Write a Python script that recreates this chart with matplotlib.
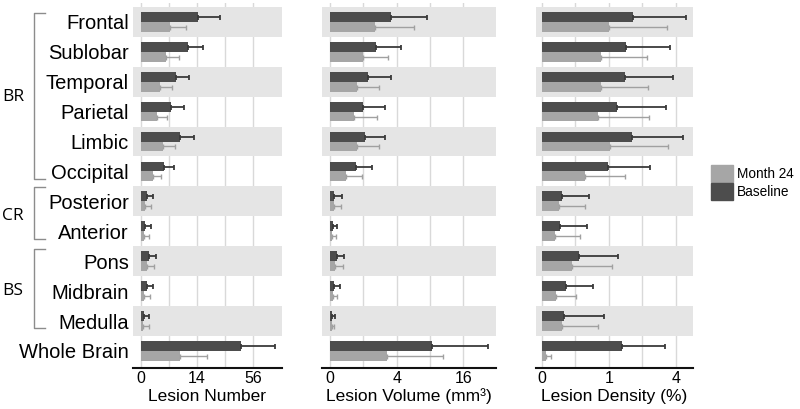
import numpy as np
import matplotlib
matplotlib.use("Agg")
from matplotlib import pyplot as plt
from matplotlib.patches import Patch
from matplotlib.lines import Line2D
from matplotlib.transforms import blended_transform_factory

plt.rcParams['font.family'] = ['Liberation Sans', 'DejaVu Sans']

regions = ["Frontal", "Sublobar", "Temporal", "Parietal", "Limbic", "Occipital",
           "Posterior", "Anterior", "Pons", "Midbrain", "Medulla", "Whole Brain"]

# lesion number (mean, sd)
num_base = [14.7, 10.0, 5.4, 4.1, 6.8, 2.4, 0.15, 0.08, 0.26, 0.16, 0.03, 44.6]
num_base_sd = [13.2, 7.3, 4.9, 4.3, 5.9, 2.5, 0.53, 0.34, 0.74, 0.52, 0.23, 35.9]
num_m24 = [3.75, 2.8, 1.66, 1.14, 2.16, 0.61, 0.07, 0.03, 0.16, 0.05, 0.02, 6.8]
num_m24_sd = [5.25, 3.75, 2.54, 1.95, 3.0, 1.17, 0.35, 0.26, 0.59, 0.29, 0.24, 12.6]

# lesion volume (mm3)
vol_base = [3.35, 1.93, 1.32, 0.98, 1.1, 0.6, 0.017, 0.007, 0.04, 0.017, 0.004, 9.38]
vol_base_sd = [5.07, 2.62, 2.0, 1.72, 1.66, 1.01, 0.113, 0.037, 0.14, 0.079, 0.016, 13.2]
vol_m24 = [1.83, 0.96, 0.67, 0.53, 0.64, 0.23, 0.012, 0.0025, 0.025, 0.007, 0.0025, 2.9]
vol_m24_sd = [4.58, 2.11, 1.5, 1.49, 1.53, 0.71, 0.098, 0.0275, 0.135, 0.033, 0.0145, 8.55]

# lesion density (%)
den_base = [1.83, 1.57, 1.55, 1.26, 1.79, 0.98, 0.089, 0.07, 0.3, 0.13, 0.11, 1.43]
den_base_sd = [2.77, 2.08, 2.29, 2.15, 2.62, 1.63, 0.40, 0.39, 1.0, 0.44, 0.75, 1.92]
den_m24 = [0.99, 0.78, 0.78, 0.71, 1.03, 0.41, 0.062, 0.039, 0.2, 0.042, 0.089, 0.0036]
den_m24_sd = [2.51, 1.69, 1.71, 1.85, 2.51, 1.14, 0.35, 0.29, 0.89, 0.22, 0.60, 0.013]

num_ticks = [0, 14, 56]
vol_ticks = [0, 4, 16]
den_ticks = [0, 1, 4]

DARK = '#4d4d4d'
LIGHT = '#a6a6a6'
BAND = '#e5e5e5'


def fwd(x):
    x = np.asarray(x, dtype=float)
    return np.sign(x) * np.sqrt(np.abs(x))


def inv(x):
    x = np.asarray(x, dtype=float)
    return np.sign(x) * x ** 2


fig = plt.figure(figsize=(8, 4.09), dpi=100)
bot = 41 / 409
h = 365 / 409
ax1 = fig.add_axes([133 / 800, bot, 149 / 800, h])
ax2 = fig.add_axes([322 / 800, bot, 174 / 800, h])
ax3 = fig.add_axes([536 / 800, bot, 157 / 800, h])

panels = [
    (ax1, num_base, num_base_sd, num_m24, num_m24_sd, num_ticks, [3.5, 31.5], (-0.285, 88.7), "Lesion Number"),
    (ax2, vol_base, vol_base_sd, vol_m24, vol_m24_sd, vol_ticks, [1, 9], (-0.058, 24.8), "Lesion Volume (mm³)"),
    (ax3, den_base, den_base_sd, den_m24, den_m24_sd, den_ticks, [0.25, 2.25], (-0.008, 5.08), "Lesion Density (%)"),
]

y = np.arange(len(regions))
bh = 0.33
for ax, base, base_sd, m24, m24_sd, ticks, minor, xlim, label in panels:
    ax.set_xscale('function', functions=(fwd, inv))
    for i in range(0, len(regions) - 1, 2):
        ax.axhspan(i - 0.5, i + 0.5, color=BAND, lw=0, zorder=0.9)
    ax.barh(y - bh / 2, base, height=bh, color=DARK, zorder=2)
    ax.barh(y + bh / 2, m24, height=bh, color=LIGHT, zorder=2)
    ax.errorbar(base, y - bh / 2, xerr=[np.zeros(len(base)), base_sd], fmt='none',
                ecolor='#3a3a3a', elinewidth=1.3, capsize=1.8, capthick=1.3, zorder=3)
    ax.errorbar(m24, y + bh / 2, xerr=[np.zeros(len(m24)), m24_sd], fmt='none',
                ecolor='#a0a0a0', elinewidth=1.0, capsize=1.8, capthick=1.0, zorder=3)
    ax.set_xlim(*xlim)
    ax.set_ylim(11.57, -0.63)
    ax.set_xticks(ticks)
    ax.set_xticklabels([str(t) for t in ticks], fontsize=11.5)
    ax.set_xticks(minor, minor=True)
    ax.xaxis.set_minor_formatter(plt.NullFormatter())
    ax.grid(which='both', axis='x', color='#d9d9d9', lw=1)
    ax.set_axisbelow(True)
    ax.tick_params(which='both', length=0, pad=2)
    ax.set_xlabel(label, fontsize=12.5, labelpad=2)
    for s in ['top', 'right', 'left']:
        ax.spines[s].set_visible(False)
    ax.spines['bottom'].set_linewidth(1.5)
    ax.spines['bottom'].set_color('#111111')
    if ax is ax1:
        ax.set_yticks(y)
        ax.set_yticklabels(regions, fontsize=14.5)
        ax.tick_params(axis='y', pad=3)
    else:
        ax.set_yticks([])

# group brackets
groups = [("BR", -0.28, 5.25, 2.5), ("CR", 5.52, 7.26, 6.5), ("BS", 7.6, 10.23, 9.0)]
tr = blended_transform_factory(fig.transFigure, ax1.transData)
xv = 34 / 800
xh = 45 / 800
for name, top, bottom, mid in groups:
    fig.add_artist(Line2D([xh, xv, xv, xh], [top, top, bottom, bottom], transform=tr,
                          color='#8c8c8c', lw=1))
    fig.text(13 / 800, mid, name, transform=tr, fontsize=12.5, ha='center', va='center',
             family=['Open Sans', 'DejaVu Sans'])

handles = [Patch(color=LIGHT, label="Month 24"), Patch(color=DARK, label="Baseline")]
fig.legend(handles=handles, loc='upper left', bbox_to_anchor=(708 / 800, 1 - 162 / 409),
           frameon=False, fontsize=9.8, handlelength=1.6, handleheight=1.6,
           handletextpad=0.3, labelspacing=0.05, borderpad=0.2, borderaxespad=0)

fig.savefig("out.png", dpi=100)
